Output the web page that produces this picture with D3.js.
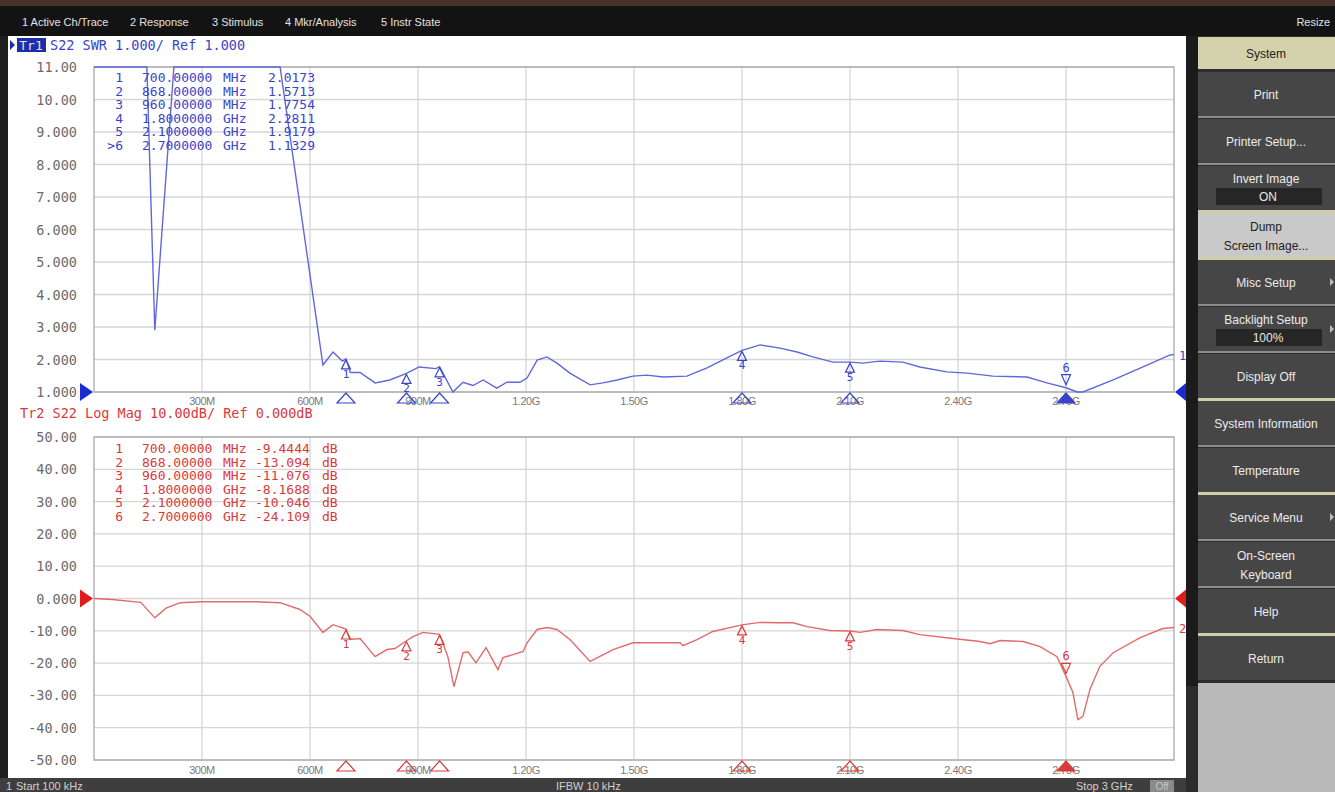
<!DOCTYPE html>
<html><head><meta charset="utf-8">
<script src="https://cdn.jsdelivr.net/npm/d3@7"></script>
<style>html,body{margin:0;padding:0;background:#2b2b2b;overflow:hidden}</style>
</head><body>
<svg id="c" width="1335" height="792"></svg>
<script>
// ---------- DATA ----------
const menuItems = ["1 Active Ch/Trace","2 Response","3 Stimulus","4 Mkr/Analysis","5 Instr State"];
const xTickMHz = [300,600,900,1200,1500,1800,2100,2400,2700];
const xTickLabels = ["300M","600M","900M","1.20G","1.50G","1.80G","2.10G","2.40G","2.70G"];
const swrTicks = [11,10,9,8,7,6,5,4,3,2,1];
const swrTickLabels = ["11.00","10.00","9.000","8.000","7.000","6.000","5.000","4.000","3.000","2.000","1.000"];
const dbTicks = [50,40,30,20,10,0,-10,-20,-30,-40,-50];
const dbTickLabels = ["50.00","40.00","30.00","20.00","10.00","0.000","-10.00","-20.00","-30.00","-40.00","-50.00"];

// Trace 1: S22 SWR (values above 11 are off-screen and shown clipped at the top)
const swrFreqMHz = [0.1,147,169,222,517,636,664,690,700,712,739,781,822,868,903,950,960,997,1025,1053,1081,1119,1147,1183,1203,1231,1258,1286,1322,1378,1414,1453,1497,1536,1581,1647,1703,1758,1800,1850,1906,1953,1997,2053,2100,2136,2183,2247,2294,2369,2425,2497,2592,2647,2700,2731,2747,2831,2925,2989,3000];
const swrValues  = [15,15,2.9,15,15,1.83,2.23,1.95,2.02,1.6,1.6,1.28,1.37,1.57,1.77,1.72,1.78,1.0,1.3,1.2,1.37,1.12,1.3,1.3,1.43,1.98,2.08,1.89,1.58,1.22,1.28,1.37,1.49,1.52,1.46,1.49,1.74,2.05,2.28,2.45,2.35,2.23,2.08,1.92,1.92,1.89,1.95,1.92,1.77,1.62,1.58,1.49,1.46,1.28,1.13,1.0,1.0,1.37,1.83,2.14,2.15];

// Trace 2: S22 Log Mag (dB)
const dbFreqMHz = [0.1,50,130,169,200,240,300,450,517,572,600,636,664,700,711,739,781,814,836,868,886,914,960,983,1000,1025,1039,1061,1089,1122,1136,1164,1192,1203,1231,1258,1286,1322,1378,1442,1497,1581,1628,1636,1675,1719,1800,1850,1906,1942,1981,2044,2100,2128,2175,2247,2294,2386,2461,2489,2517,2581,2628,2675,2700,2719,2733,2747,2767,2794,2831,2906,2969,3000];
const dbValues  = [0,-0.3,-1.2,-6,-3,-1.3,-1.0,-1.0,-1.3,-3.4,-5.5,-10.5,-8.1,-9.44,-12.7,-12.4,-18,-15.8,-15.5,-13.09,-11.8,-10.5,-11.08,-18,-27.3,-16.8,-16.5,-19.9,-15.2,-22,-18.3,-17.4,-16.4,-13.7,-9.6,-9,-9.6,-12.7,-19.5,-15.8,-13.7,-13.7,-13.7,-14.6,-12.7,-10.2,-8.17,-7.4,-7.5,-7.5,-8.7,-9.9,-10.05,-10.5,-9.6,-9.9,-11.2,-12.4,-13.3,-14,-13,-13.3,-14.9,-18,-24.1,-29,-37.5,-36.5,-28,-21,-16.8,-12.1,-9.3,-9];

// Markers
const markerIds1 = ["1","2","3","4","5",">6"];
const markerIds2 = ["1","2","3","4","5","6"];
const markerFreqMHz = [700,868,960,1800,2100,2700];
const markerFreqText = ["700.00000","868.00000","960.00000","1.8000000","2.1000000","2.7000000"];
const markerUnit = ["MHz","MHz","MHz","GHz","GHz","GHz"];
const swrMarkerVals = [2.0173,1.5713,1.7754,2.2811,1.9179,1.1329];
const swrMarkerText = ["2.0173","1.5713","1.7754","2.2811","1.9179","1.1329"];
const dbMarkerVals = [-9.4444,-13.094,-11.076,-8.1688,-10.046,-24.109];
const dbMarkerText = ["-9.4444","-13.094","-11.076","-8.1688","-10.046","-24.109"];
const activeMarker = 5;

// Softkey menu
const softkeys = [
  {t:["Print"]},{t:["Printer Setup..."]},{t:["Invert Image"],sub:"ON"},
  {t:["Dump","Screen Image..."],hl:true},{t:["Misc Setup"],arrow:true},
  {t:["Backlight Setup"],sub:"100%",arrow:true},{t:["Display Off"]},
  {t:["System Information"]},{t:["Temperature"]},{t:["Service Menu"],arrow:true},
  {t:["On-Screen","Keyboard"]},{t:["Help"]},{t:["Return"]}
];
const beigeSepBefore = [4,7,9,12]; // index of key preceded by a beige separator

// ---------- DRAW ----------
const svg = d3.select("#c");
const MONO = "'DejaVu Sans Mono', monospace";
const SANS = "'Liberation Sans', Arial, sans-serif";
const BLUE_T = "#3a44c8", BLUE_L = "#6068d8", RED_T = "#d83a3a", RED_L = "#e36a6a";

// frame / backgrounds
svg.append("rect").attr("x",0).attr("y",0).attr("width",1335).attr("height",792).attr("fill","#2b2b2b");
svg.append("rect").attr("x",0).attr("y",0).attr("width",1335).attr("height",6).attr("fill","#46322a");
svg.append("rect").attr("x",0).attr("y",6).attr("width",1335).attr("height",30).attr("fill","#131313");
svg.append("rect").attr("x",8).attr("y",36).attr("width",1178).attr("height",742).attr("fill","#ffffff");

// menu bar
const menuX = [22,130,212,285,381];
svg.selectAll("text.menu").data(menuItems).enter().append("text")
  .attr("x",(d,i)=>menuX[i]).attr("y",26).attr("font-family",SANS).attr("font-size",11)
  .attr("fill","#e2e2e2").text(d=>d);
svg.append("text").attr("x",1330).attr("y",26).attr("text-anchor","end").attr("font-family",SANS)
  .attr("font-size",11).attr("fill","#e2e2e2").text("Resize");

// status bar
svg.append("rect").attr("x",0).attr("y",778).attr("width",1190).attr("height",14).attr("fill","#3e3e3e");
const st = [[6,"1"],[16,"Start 100 kHz"],[556,"IFBW 10 kHz"],[1076,"Stop 3 GHz"]];
st.forEach(s=>svg.append("text").attr("x",s[0]).attr("y",790).attr("font-family",SANS).attr("font-size",11).attr("fill","#d0d0d0").text(s[1]));
svg.append("rect").attr("x",1150).attr("y",780).attr("width",24).attr("height",12).attr("fill","#8a8a8a");
svg.append("text").attr("x",1162).attr("y",790).attr("text-anchor","middle").attr("font-family",SANS).attr("font-size",10).attr("fill","#c8c8c8").text("Off");

// right softkey panel
svg.append("rect").attr("x",1186).attr("y",36).attr("width",149).attr("height",756).attr("fill","#2c2c2c");
svg.append("rect").attr("x",1186).attr("y",36).attr("width",12).attr("height",650).attr("fill","#1b1b1b");
svg.append("rect").attr("x",1198).attr("y",683).attr("width",137).attr("height",109).attr("fill","#b9b9b9");
svg.append("rect").attr("x",1198).attr("y",37).attr("width",137).attr("height",32).attr("fill","#d3d2ad");
svg.append("text").attr("x",1266).attr("y",58).attr("text-anchor","middle").attr("font-family",SANS).attr("font-size",12).attr("fill","#222").text("System");
softkeys.forEach((k,i)=>{
  const y0 = 72 + i*47, h = 44;
  const sepCol = beigeSepBefore.includes(i) ? "#cfcea8" : "#8c8c8c";
  if (i>0) svg.append("rect").attr("x",1198).attr("y",y0-3).attr("width",137).attr("height",beigeSepBefore.includes(i)?4:2).attr("fill",sepCol);
  svg.append("rect").attr("x",1198).attr("y",y0).attr("width",137).attr("height",h)
    .attr("fill",k.hl?"#c9c9c9":"#464646");
  if (k.hl){
    svg.append("rect").attr("x",1198).attr("y",y0-3).attr("width",137).attr("height",3).attr("fill","#cfcea8");
  }
  const col = k.hl ? "#222" : "#ececec";
  let lines = k.t;
  if (k.sub){
    svg.append("text").attr("x",1266).attr("y",y0+17).attr("text-anchor","middle").attr("font-family",SANS).attr("font-size",12).attr("fill",col).text(lines[0]);
    svg.append("rect").attr("x",1216).attr("y",y0+22).attr("width",106).attr("height",17).attr("fill","#262626");
    svg.append("text").attr("x",1268).attr("y",y0+35).attr("text-anchor","middle").attr("font-family",SANS).attr("font-size",12).attr("fill","#e8e8e8").text(k.sub);
  } else if (lines.length===2){
    svg.append("text").attr("x",1266).attr("y",y0+18).attr("text-anchor","middle").attr("font-family",SANS).attr("font-size",12).attr("fill",col).text(lines[0]);
    svg.append("text").attr("x",1266).attr("y",y0+37).attr("text-anchor","middle").attr("font-family",SANS).attr("font-size",12).attr("fill",col).text(lines[1]);
  } else {
    svg.append("text").attr("x",1266).attr("y",y0+27).attr("text-anchor","middle").attr("font-family",SANS).attr("font-size",12).attr("fill",col).text(lines[0]);
  }
  if (k.arrow){
    svg.append("path").attr("d",`M1330,${y0+h/2-4}L1334,${y0+h/2}L1330,${y0+h/2+4}Z`).attr("fill","#bdbdbd");
  }
});

// left dark border
svg.append("rect").attr("x",0).attr("y",36).attr("width",8).attr("height",742).attr("fill","#1e1e1e");

// ---------- plots ----------
const x = d3.scaleLinear().domain([0.1,3000]).range([94,1174]);

function drawPlot(cfg){
  const g = svg.append("g");
  const y = cfg.y;
  const [yb, yt] = y.range();
  // grid
  g.selectAll("line.h").data(cfg.ticks).enter().append("line")
    .attr("x1",94).attr("x2",1174).attr("y1",d=>y(d)).attr("y2",d=>y(d))
    .attr("stroke","#d6d6d6").attr("stroke-width",1.3);
  g.selectAll("line.v").data(xTickMHz).enter().append("line")
    .attr("x1",d=>x(d)).attr("x2",d=>x(d)).attr("y1",yt).attr("y2",yb)
    .attr("stroke","#d6d6d6").attr("stroke-width",1.3);
  g.append("rect").attr("x",94).attr("y",yt).attr("width",1080).attr("height",yb-yt)
    .attr("fill","none").attr("stroke","#a9a9a9").attr("stroke-width",1.3);
  // y labels
  g.selectAll("text.yl").data(cfg.ticks).enter().append("text")
    .attr("x",77).attr("y",d=>y(d)+5).attr("text-anchor","end")
    .attr("font-family",MONO).attr("font-size",13.5).attr("fill","#6b6b6b")
    .text((d,i)=>cfg.tickLabels[i]);
  // x labels
  g.selectAll("text.xl").data(xTickMHz).enter().append("text")
    .attr("x",d=>x(d)).attr("y",yb+cfg.xlOff).attr("text-anchor","middle")
    .attr("font-family",SANS).attr("font-size",11).attr("letter-spacing",-0.5).attr("fill","#7a7a7a")
    .text((d,i)=>xTickLabels[i]);
  // trace
  const line = d3.line().x(d=>x(d[0])).y(d=>y(d[1]));
  const pts = cfg.freq.map((f,i)=>[f,cfg.vals[i]]);
  g.append("path").attr("d",line(pts)).attr("fill","none").attr("stroke",cfg.lineColor).attr("stroke-width",1.4);
  // markers on trace
  markerFreqMHz.forEach((f,i)=>{
    const mx = x(f), my = y(cfg.mvals[i]);
    if (i===activeMarker){
      g.append("path").attr("d",`M${mx-4.5},${my-13}L${mx+4.5},${my-13}L${mx},${my-3}Z`)
        .attr("fill","none").attr("stroke",cfg.textColor).attr("stroke-width",1.2);
      g.append("text").attr("x",mx).attr("y",my-16).attr("text-anchor","middle")
        .attr("font-family",MONO).attr("font-size",12).attr("fill",cfg.textColor).text("6");
    } else {
      g.append("path").attr("d",`M${mx},${my+1}L${mx+4.5},${my+10}L${mx-4.5},${my+10}Z`)
        .attr("fill","none").attr("stroke",cfg.textColor).attr("stroke-width",1.2);
      g.append("text").attr("x",mx).attr("y",my+19).attr("text-anchor","middle")
        .attr("font-family",MONO).attr("font-size",11).attr("fill",cfg.textColor).text(String(i+1));
    }
    // stimulus marker on axis
    g.append("path").attr("d",`M${mx},${yb+1}L${mx+9},${yb+11}L${mx-9},${yb+11}Z`)
      .attr("fill",i===activeMarker?cfg.textColor:"#ffffff").attr("fill-opacity",i===activeMarker?1:0)
      .attr("stroke",cfg.textColor).attr("stroke-width",1.2);
  });
  // reference arrows
  const ry = y(cfg.ref);
  g.append("path").attr("d",`M80,${ry-9}L93,${ry}L80,${ry+9}Z`).attr("fill",cfg.arrowColor);
  g.append("path").attr("d",`M1186,${ry-9}L1175,${ry}L1186,${ry+9}Z`).attr("fill",cfg.arrowColor);
  // trace number
  g.append("text").attr("x",1179).attr("y",y(cfg.vals[cfg.vals.length-1])+5)
    .attr("font-family",MONO).attr("font-size",12).attr("fill",cfg.textColor).text(cfg.traceNum);
  // marker table
  cfg.ids.forEach((id,i)=>{
    const ty = cfg.tableY + i*13.6;
    const tt = (xx,s,anchor)=>g.append("text").attr("x",xx).attr("y",ty).attr("text-anchor",anchor||"start")
      .attr("font-family",MONO).attr("font-size",13).attr("fill",cfg.textColor).text(s);
    tt(123,id,"end"); tt(142,markerFreqText[i]); tt(223,markerUnit[i]);
    tt(cfg.valX,cfg.mtext[i]);
    if (cfg.unit) tt(322,cfg.unit);
  });
}

// header Tr1
svg.append("path").attr("d","M10,40L15,45L10,50Z").attr("fill","#1c2fa8");
svg.append("rect").attr("x",17).attr("y",38).attr("width",29).attr("height",14).attr("fill","#1c2fa8");
svg.append("text").attr("x",31).attr("y",50).attr("text-anchor","middle").attr("font-family",MONO).attr("font-size",13).attr("fill","#dfe3ff").text("Tr1");
svg.append("text").attr("x",50).attr("y",50).attr("font-family",MONO).attr("font-size",13.5).attr("fill",BLUE_T).text("S22 SWR 1.000/ Ref 1.000");
svg.append("text").attr("x",20).attr("y",418).attr("font-family",MONO).attr("font-size",13.5).attr("fill",RED_T).text("Tr2 S22 Log Mag 10.00dB/ Ref 0.000dB");

drawPlot({
  y: d3.scaleLinear().domain([1,11]).range([392,67]).clamp(true),
  ticks: swrTicks, tickLabels: swrTickLabels, freq: swrFreqMHz, vals: swrValues,
  mvals: swrMarkerVals, mtext: swrMarkerText, ids: markerIds1, tableY: 82, valX: 268,
  lineColor: BLUE_L, textColor: BLUE_T, arrowColor: "#1b2bd0", ref: 1, traceNum: "1", xlOff: 13
});
drawPlot({
  y: d3.scaleLinear().domain([-50,50]).range([760,437]).clamp(true),
  ticks: dbTicks, tickLabels: dbTickLabels, freq: dbFreqMHz, vals: dbValues,
  mvals: dbMarkerVals, mtext: dbMarkerText, ids: markerIds2, tableY: 453, valX: 255, unit: "dB",
  lineColor: RED_L, textColor: RED_T, arrowColor: "#e01c1c", ref: 0, traceNum: "2", xlOff: 14
});
</script>
</body></html>
